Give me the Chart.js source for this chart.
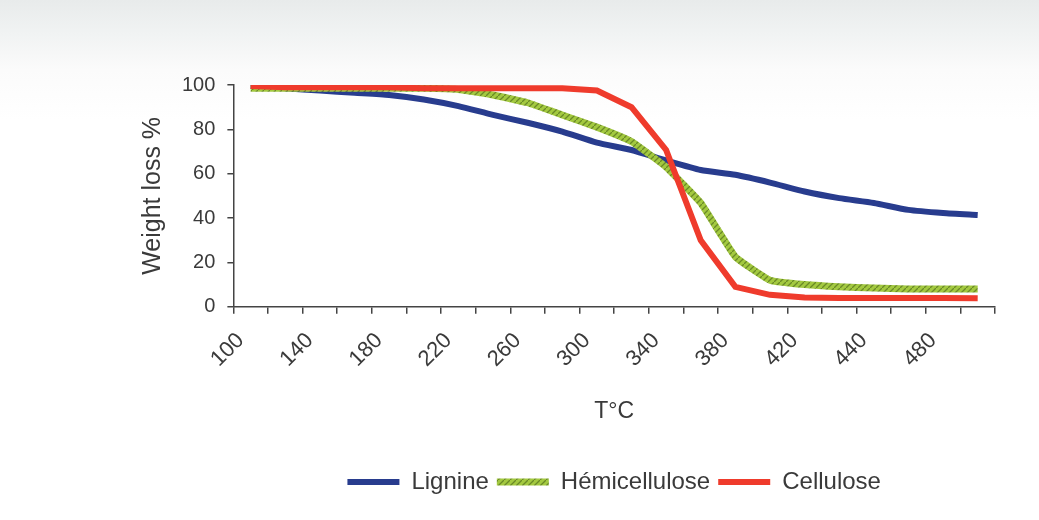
<!DOCTYPE html>
<html>
<head>
<meta charset="utf-8">
<script src="https://cdn.jsdelivr.net/npm/chart.js@4.4.0/dist/chart.umd.min.js"></script>
<style>
    html, body { margin: 0; padding: 0; }
    body {
        width: 1039px;
        height: 520px;
        background: linear-gradient(#e8ebeb 0px, #f1f3f3 35px, #fbfbfb 70px, #ffffff 120px);
    }
</style>
</head>
<body>
<canvas id="tgaChart" width="1039" height="520"></canvas>
<script>
// Temperature categories (x axis), only some of them get a label
const temperatures = [100, 120, 140, 160, 180, 200, 220, 240, 260, 280, 300, 320, 340, 360, 380, 400, 420, 430, 440, 460, 480, 500];
const shownLabels = [100, 140, 180, 220, 260, 300, 340, 380, 420, 440, 480];

// Weight loss %
const lignine = [99.5, 98.5, 97.5, 96.5, 95.5, 93.5, 90.5, 86.5, 83, 79, 74, 70.7, 66, 61.7, 59.5, 56, 52, 49, 46.8, 43.7, 42.3, 41.4];
const hemicellulose = [98.5, 98.5, 98.5, 98.5, 98.5, 98.5, 98, 95.5, 92, 86.5, 81, 74.5, 63, 46.8, 22.5, 12, 10, 9, 8.5, 8, 8, 8];
const cellulose = [99.5, 99, 99, 99, 99, 98.5, 98.5, 98.5, 98.5, 98.5, 97.5, 90, 70.7, 30, 9, 5.4, 4.2, 4, 4, 4, 4, 3.8];

const yTicks = [0, 20, 40, 60, 80, 100];

// striped green like the excel texture
function makeGreenPattern() {
    const c = document.createElement("canvas");
    c.width = 6;
    c.height = 6;
    const g = c.getContext("2d");
    g.fillStyle = "#a3c940";
    g.fillRect(0, 0, 6, 6);
    g.strokeStyle = "#6a8a26";
    g.lineWidth = 1.3;
    g.beginPath();
    g.moveTo(0, 6);
    g.lineTo(6, 0);
    g.stroke();
    return g.createPattern(c, "repeat");
}

const axisColor = "#444444";
const textColor = "#3a3a3a";
Chart.defaults.font.family = "'Liberation Sans', Arial, sans-serif";
Chart.defaults.color = textColor;

const ctx = document.getElementById("tgaChart").getContext("2d");
new Chart(ctx, {
    type: "line",
    data: {
        labels: temperatures,
        datasets: [
            {
                label: "Lignine",
                data: lignine,
                borderColor: "#283c8e",
                backgroundColor: "#283c8e",
                borderWidth: 6,
                pointRadius: 0,
                tension: 0.2,
                order: 2
            },
            {
                label: "Hémicellulose",
                data: hemicellulose,
                borderColor: makeGreenPattern(),
                backgroundColor: "#a3c940",
                borderWidth: 7,
                pointRadius: 0,
                tension: 0.1,
                order: 1
            },
            {
                label: "Cellulose",
                data: cellulose,
                borderColor: "#ef3b2c",
                backgroundColor: "#ef3b2c",
                borderWidth: 6,
                pointRadius: 0,
                tension: 0,
                order: 0
            }
        ]
    },
    options: {
        responsive: false,
        animation: false,
        devicePixelRatio: 1,
        layout: {
            padding: { left: 138, right: 44, top: 85, bottom: 16 }
        },
        plugins: {
            tooltip: { enabled: false },
            legend: {
                position: "bottom",
                fullSize: false,
                labels: {
                    usePointStyle: true,
                    pointStyle: "line",
                    pointStyleWidth: 52,
                    boxHeight: 22,
                    padding: 8,
                    color: textColor,
                    font: { size: 24 },
                    sort: (a, b) => a.datasetIndex - b.datasetIndex
                }
            }
        },
        scales: {
            x: {
                type: "category",
                offset: true,
                grid: {
                    offset: true,
                    drawOnChartArea: false,
                    drawTicks: true,
                    tickLength: 7,
                    color: axisColor,
                    lineWidth: 1.5
                },
                border: { color: axisColor, width: 1.5 },
                ticks: {
                    autoSkip: false,
                    minRotation: 45,
                    maxRotation: 45,
                    padding: 14,
                    labelOffset: -10,
                    font: { size: 22 },
                    color: textColor,
                    callback: function (value) {
                        const t = this.getLabelForValue(value);
                        return shownLabels.includes(t) ? String(t) : "";
                    }
                },
                title: {
                    display: true,
                    text: "T°C",
                    font: { size: 23 },
                    color: textColor,
                    padding: { top: 11, bottom: 37 }
                }
            },
            y: {
                min: yTicks[0],
                max: yTicks[yTicks.length - 1],
                grid: {
                    drawOnChartArea: false,
                    drawTicks: true,
                    tickLength: 6,
                    color: axisColor,
                    lineWidth: 1.5
                },
                border: { color: axisColor, width: 1.5 },
                afterBuildTicks: function (axis) {
                    axis.ticks = yTicks.map(v => ({ value: v }));
                },
                ticks: {
                    padding: 12,
                    font: { size: 20 },
                    color: textColor
                },
                title: {
                    display: true,
                    text: "Weight loss %",
                    font: { size: 25 },
                    color: textColor,
                    padding: { top: 0, bottom: 2 }
                }
            }
        }
    }
});
</script>
</body>
</html>
